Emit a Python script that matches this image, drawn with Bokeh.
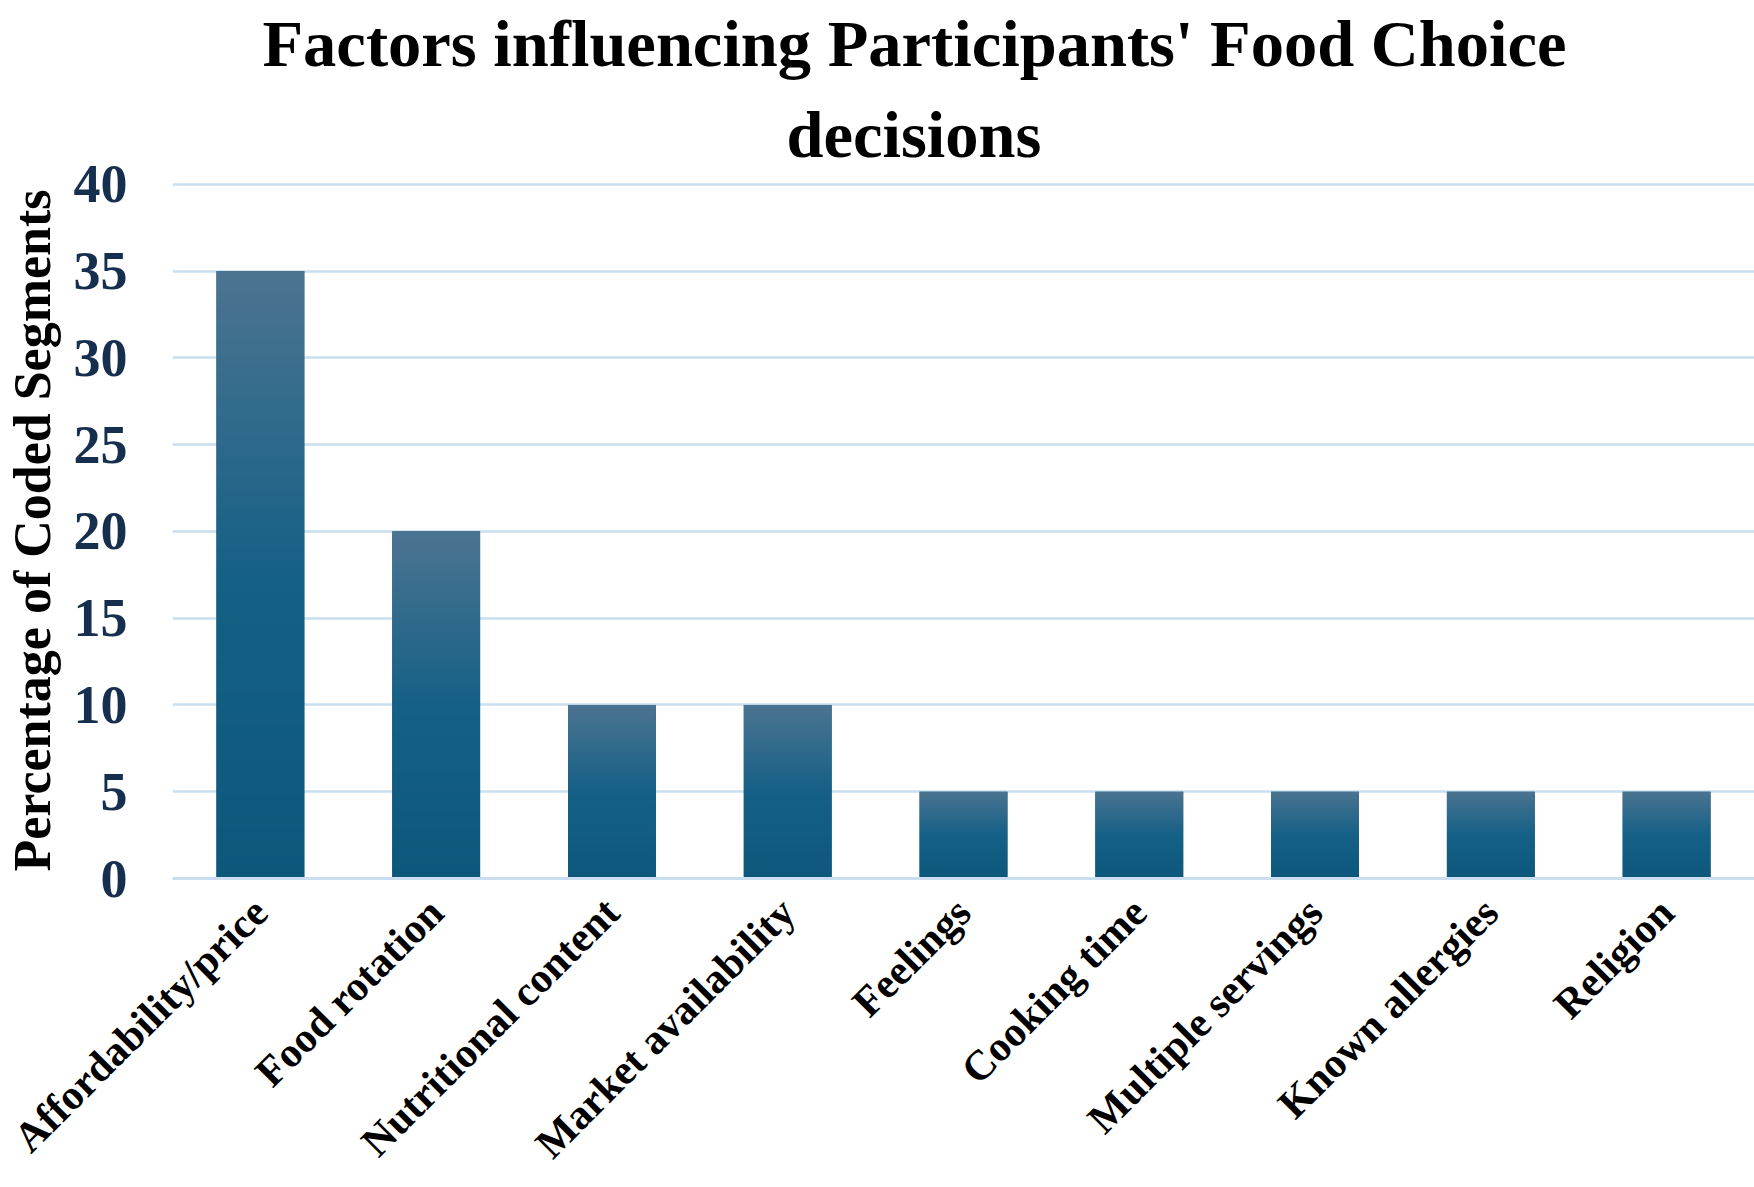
import numpy as np
from math import pi
from bokeh.plotting import figure
from bokeh.models import Range1d, FixedTicker, Title
from bokeh.embed import file_html
from bokeh.resources import INLINE

# ---- data ----
categories = ["Affordability/price", "Food rotation", "Nutritional content",
              "Market availability", "Feelings", "Cooking time",
              "Multiple servings", "Known allergies", "Religion"]
values = [35, 20, 10, 10, 5, 5, 5, 5, 5]
y_ticks = [0, 5, 10, 15, 20, 25, 30, 35, 40]
title_lines = ["Factors influencing Participants' Food Choice", "decisions"]
y_label = "Percentage of Coded Segments"

# ---- style ----
FONT = "Liberation Serif"
GRID = "#cadef0"
TICK_COLOR = "#172f4e"
TOP_RGB = (0x4c, 0x74, 0x91)
MID_RGB = (0x15, 0x60, 0x86)
BOT_RGB = (0x0c, 0x57, 0x7a)
BAR_W = 0.5

n = len(categories)
centers = [i + 0.5 for i in range(n)]

p = figure(width=1754, height=1187, output_backend="svg", toolbar_location=None,
           x_range=Range1d(0, n), y_range=Range1d(0, 40.1),
           min_border_left=170, min_border_right=0, min_border_top=170,
           min_border_bottom=309)
p.title = None
p.outline_line_color = None
p.background_fill_color = "white"
p.border_fill_color = "white"

# title (two centred lines)
offsets = [90, 614]
standoffs = [12, 20]
for line, off, so in zip(reversed(title_lines), reversed(offsets), reversed(standoffs)):
    t_obj = Title(text=line, align="left", offset=off, vertical_align="top",
                  text_font=FONT, text_font_size="66.5px",
                  text_font_style="bold", text_color="black")
    try:
        t_obj.standoff = so
    except Exception:
        t_obj.standoff = max(so, 0)
    p.add_layout(t_obj, "above")

# grid
p.xgrid.grid_line_color = None
p.ygrid.grid_line_color = GRID
p.ygrid.grid_line_width = 2.5
p.ygrid.ticker = FixedTicker(ticks=y_ticks)

# y axis
p.yaxis.ticker = FixedTicker(ticks=y_ticks)
p.yaxis.axis_line_color = None
p.yaxis.major_tick_line_color = None
p.yaxis.minor_tick_line_color = None
p.yaxis.major_label_text_font = FONT
p.yaxis.major_label_text_font_size = "54px"
p.yaxis.major_label_text_font_style = "bold"
p.yaxis.major_label_text_color = TICK_COLOR
p.yaxis.major_label_standoff = 39
p.yaxis.axis_label = y_label
p.yaxis.axis_label_text_font = FONT
p.yaxis.axis_label_text_font_size = "52px"
p.yaxis.axis_label_text_font_style = "bold"
p.yaxis.axis_label_text_color = "black"
p.yaxis.axis_label_standoff = 10

# x axis
p.xaxis.ticker = FixedTicker(ticks=centers)
p.xaxis.major_label_overrides = {c: cat for c, cat in zip(centers, categories)}
p.xaxis.axis_line_color = GRID
p.xaxis.axis_line_width = 3
p.xaxis.major_tick_line_color = None
p.xaxis.minor_tick_line_color = None
p.xaxis.major_label_orientation = pi / 4
p.xaxis.major_label_text_font = FONT
p.xaxis.major_label_text_font_size = "42px"
p.xaxis.major_label_text_font_style = "bold"
p.xaxis.major_label_text_color = "black"
p.xaxis.major_label_standoff = 21

# bars (base colour)
p.vbar(x=centers, top=values, bottom=0, width=BAR_W,
       fill_color="#0e5a7e", line_color=None)

# vertical gradient overlay for each bar
N = 512
t = np.linspace(0.0, 1.0, N)[:, None]  # 0 = bottom, 1 = top
lo = np.array(BOT_RGB, dtype=float)
mi = np.array(MID_RGB, dtype=float)
hi = np.array(TOP_RGB, dtype=float)
rgb = np.where(t < 0.5, lo + (mi - lo) * (t / 0.5), mi + (hi - mi) * ((t - 0.5) / 0.5))
img = np.empty((N, 1), dtype=np.uint32)
view = img.view(dtype=np.uint8).reshape((N, 1, 4))
view[:, 0, 0] = rgb[:, 0].round().astype(np.uint8)
view[:, 0, 1] = rgb[:, 1].round().astype(np.uint8)
view[:, 0, 2] = rgb[:, 2].round().astype(np.uint8)
view[:, 0, 3] = 255
p.image_rgba(image=[img] * n, x=[c - BAR_W / 2 for c in centers], y=[0] * n,
             dw=[BAR_W] * n, dh=values)

open("out.html", "w").write(file_html(p, INLINE))
